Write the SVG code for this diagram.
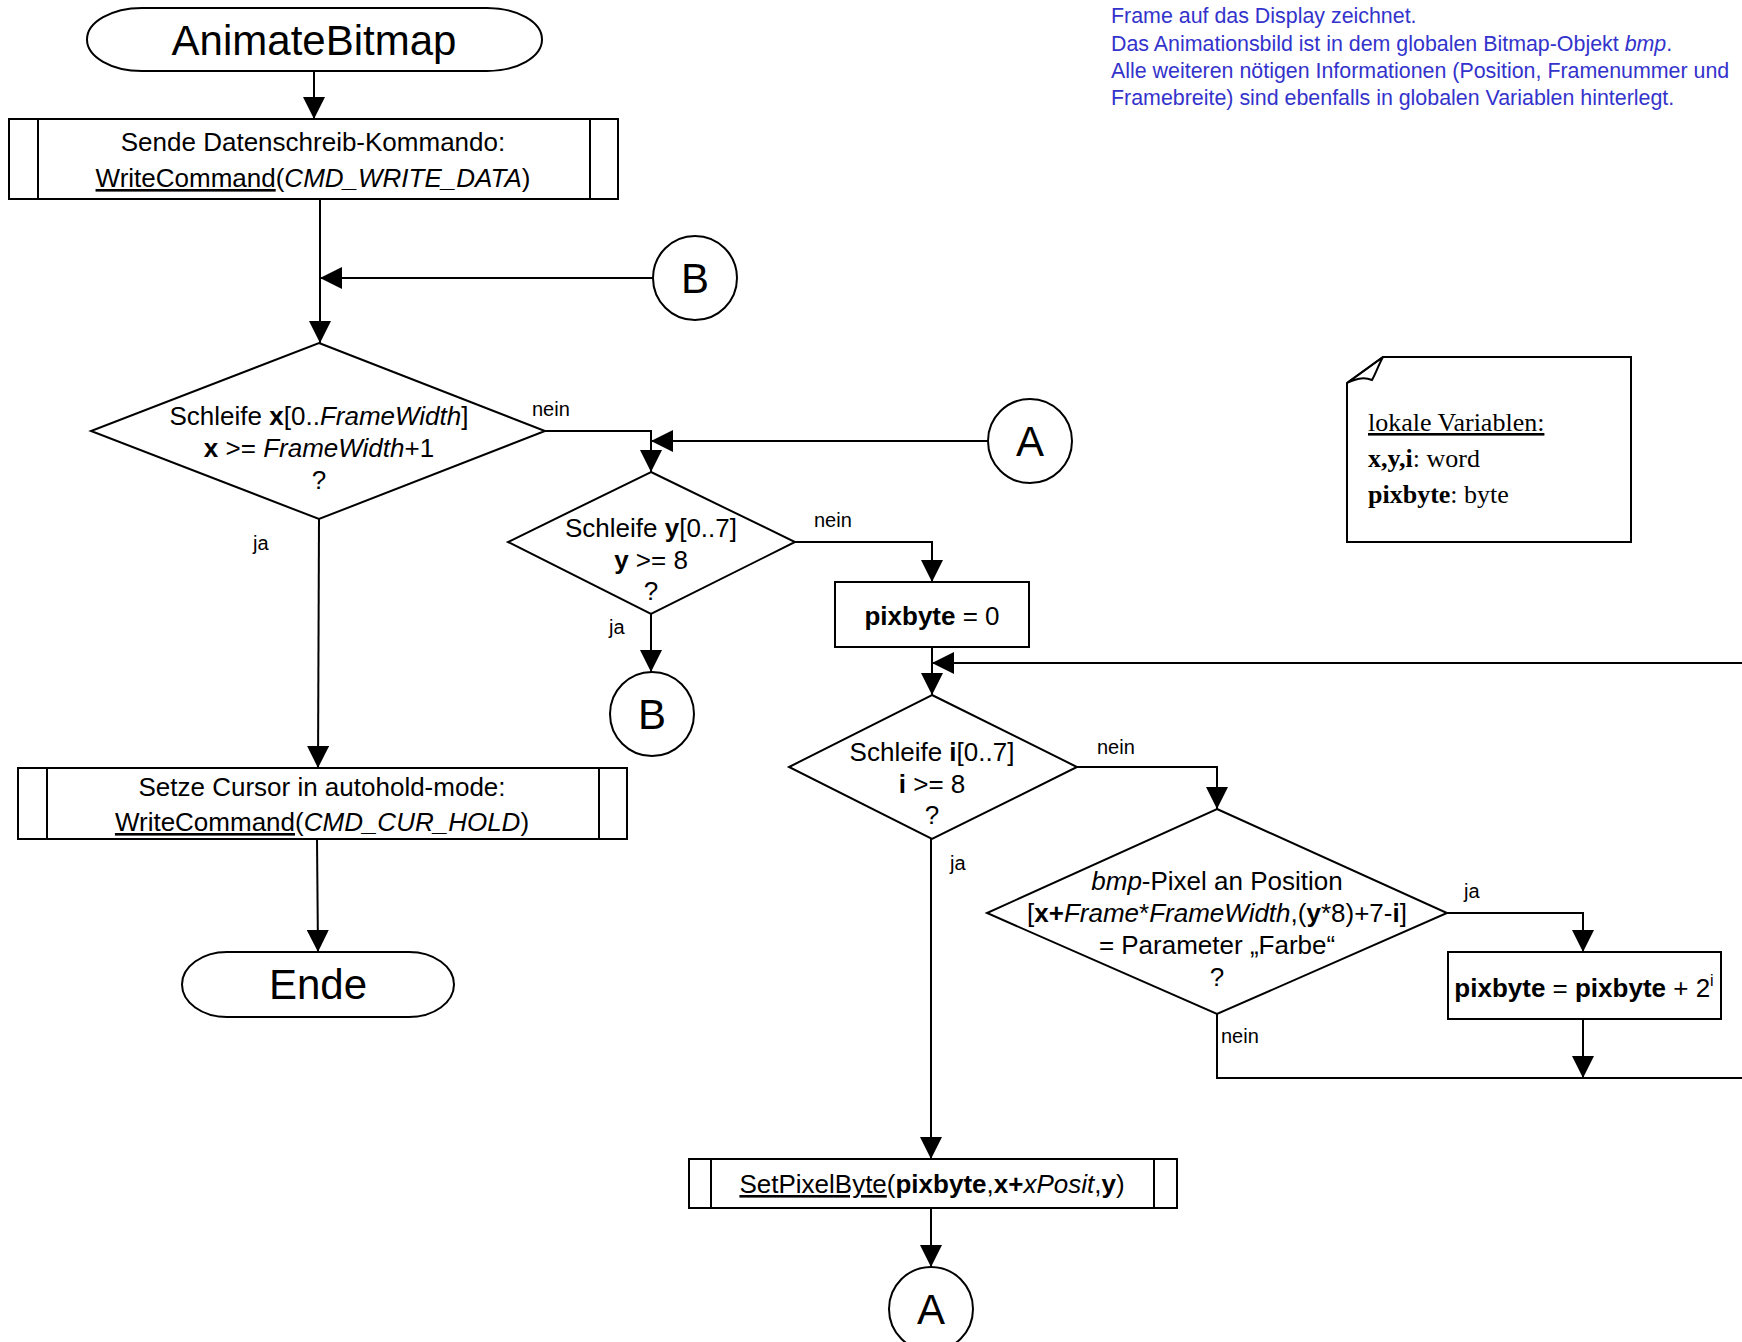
<svg xmlns="http://www.w3.org/2000/svg" width="1742" height="1342" viewBox="0 0 1742 1342">
  <style>
    .shape { fill: #ffffff; stroke: #000000; stroke-width: 2; }
    .line { fill: none; stroke: #000000; stroke-width: 2; }
    .t { font-family: "Liberation Sans", Arial, sans-serif; font-size: 26px; fill: #000000; text-anchor: middle; }
    .big { font-size: 42px; }
    .lbl { font-family: "Liberation Sans", Arial, sans-serif; font-size: 20px; fill: #000000; }
    .note { font-family: "Liberation Serif", "Times New Roman", serif; font-size: 26px; fill: #000000; }
    .info { font-family: "Liberation Sans", Arial, sans-serif; font-size: 21.4px; fill: #3333CC; }
    .b { font-weight: bold; }
    .i { font-style: italic; }
    .u { text-decoration: underline; }
  </style>
  <defs>
    <marker id="arrow" markerUnits="userSpaceOnUse" markerWidth="22" markerHeight="22" refX="22" refY="11" orient="auto">
      <path d="M0,0 L22,11 L0,22 z" fill="#000000"/>
    </marker>
  </defs>

  <rect width="1742" height="1342" fill="#ffffff"/>

  <!-- description -->
  <g id="info">
    <text class="info" x="1111" y="23">Frame auf das Display zeichnet.</text>
    <text class="info" x="1111" y="51">Das Animationsbild ist in dem globalen Bitmap-Objekt <tspan class="i">bmp</tspan>.</text>
    <text class="info" x="1111" y="78">Alle weiteren nötigen Informationen (Position, Framenummer und</text>
    <text class="info" x="1111" y="105">Framebreite) sind ebenfalls in globalen Variablen hinterlegt.</text>
  </g>

  <!-- connectors -->
  <g id="connectors">
    <line class="line" x1="314" y1="71" x2="314" y2="119" marker-end="url(#arrow)"/>
    <line class="line" x1="320" y1="199" x2="320" y2="343" marker-end="url(#arrow)"/>
    <line class="line" x1="653" y1="278" x2="320" y2="278" marker-end="url(#arrow)"/>
    <polyline class="line" points="545,431 651,431 651,472" marker-end="url(#arrow)"/>
    <line class="line" x1="988" y1="441" x2="651" y2="441" marker-end="url(#arrow)"/>
    <line class="line" x1="319" y1="519" x2="318" y2="768" marker-end="url(#arrow)"/>
    <line class="line" x1="317" y1="839" x2="318" y2="952" marker-end="url(#arrow)"/>
    <line class="line" x1="651" y1="614" x2="651" y2="672" marker-end="url(#arrow)"/>
    <polyline class="line" points="795,542 932,542 932,582" marker-end="url(#arrow)"/>
    <line class="line" x1="932" y1="647" x2="932" y2="695" marker-end="url(#arrow)"/>
    <line class="line" x1="1742" y1="663" x2="932" y2="663" marker-end="url(#arrow)"/>
    <polyline class="line" points="1077,767 1217,767 1217,809" marker-end="url(#arrow)"/>
    <line class="line" x1="931" y1="839" x2="931" y2="1159" marker-end="url(#arrow)"/>
    <polyline class="line" points="1447,913 1583,913 1583,952" marker-end="url(#arrow)"/>
    <line class="line" x1="1583" y1="1019" x2="1583" y2="1078" marker-end="url(#arrow)"/>
    <polyline class="line" points="1217,1014 1217,1078 1742,1078"/>
    <line class="line" x1="931" y1="1208" x2="931" y2="1267" marker-end="url(#arrow)"/>

    <text class="lbl" x="532" y="416">nein</text>
    <text class="lbl" x="253" y="550">ja</text>
    <text class="lbl" x="814" y="527">nein</text>
    <text class="lbl" x="609" y="634">ja</text>
    <text class="lbl" x="1097" y="754">nein</text>
    <text class="lbl" x="950" y="870">ja</text>
    <text class="lbl" x="1464" y="898">ja</text>
    <text class="lbl" x="1221" y="1043">nein</text>
  </g>

  <g id="start">
    <rect class="shape" x="87" y="8" width="455" height="63" rx="55" ry="31.5"/>
    <text class="t big" x="314" y="55">AnimateBitmap</text>
  </g>

  <g id="send-command">
    <rect class="shape" x="9" y="119" width="609" height="80"/>
    <line class="line" x1="38" y1="119" x2="38" y2="199"/>
    <line class="line" x1="590" y1="119" x2="590" y2="199"/>
    <text class="t" x="313" y="151">Sende Datenschreib-Kommando:</text>
    <text class="t" x="313" y="187"><tspan class="u">WriteCommand</tspan>(<tspan class="i">CMD_WRITE_DATA</tspan>)</text>
  </g>

  <g id="connector-b-in">
    <circle class="shape" cx="695" cy="278" r="42"/>
    <text class="t big" x="695" y="293">B</text>
  </g>

  <g id="loop-x">
    <polygon class="shape" points="319,343 545,431 319,519 91,431"/>
    <text class="t" x="319" y="425">Schleife <tspan class="b">x</tspan>[0..<tspan class="i">FrameWidth</tspan>]</text>
    <text class="t" x="319" y="457"><tspan class="b">x</tspan> &gt;= <tspan class="i">FrameWidth</tspan>+1</text>
    <text class="t" x="319" y="489">?</text>
  </g>

  <g id="connector-a-in">
    <circle class="shape" cx="1030" cy="441" r="42"/>
    <text class="t big" x="1030" y="456">A</text>
  </g>

  <g id="loop-y">
    <polygon class="shape" points="651,472 795,542 651,614 508,542"/>
    <text class="t" x="651" y="537">Schleife <tspan class="b">y</tspan>[0..7]</text>
    <text class="t" x="651" y="569"><tspan class="b">y</tspan> &gt;= 8</text>
    <text class="t" x="651" y="600">?</text>
  </g>

  <g id="connector-b-out">
    <circle class="shape" cx="652" cy="714" r="42"/>
    <text class="t big" x="652" y="729">B</text>
  </g>

  <g id="cursor-hold">
    <rect class="shape" x="18" y="768" width="609" height="71"/>
    <line class="line" x1="47" y1="768" x2="47" y2="839"/>
    <line class="line" x1="599" y1="768" x2="599" y2="839"/>
    <text class="t" x="322" y="796">Setze Cursor in autohold-mode:</text>
    <text class="t" x="322" y="831"><tspan class="u">WriteCommand</tspan>(<tspan class="i">CMD_CUR_HOLD</tspan>)</text>
  </g>

  <g id="end">
    <rect class="shape" x="182" y="952" width="272" height="65" rx="45" ry="32.5"/>
    <text class="t big" x="318" y="999">Ende</text>
  </g>

  <g id="pixbyte-reset">
    <rect class="shape" x="835" y="582" width="194" height="65"/>
    <text class="t" x="932" y="625"><tspan class="b">pixbyte</tspan> = 0</text>
  </g>

  <g id="loop-i">
    <polygon class="shape" points="932,695 1077,767 932,839 789,767"/>
    <text class="t" x="932" y="761">Schleife <tspan class="b">i</tspan>[0..7]</text>
    <text class="t" x="932" y="793"><tspan class="b">i</tspan> &gt;= 8</text>
    <text class="t" x="932" y="824">?</text>
  </g>

  <g id="pixel-test">
    <polygon class="shape" points="1217,809 1447,913 1217,1014 987,913"/>
    <text class="t" x="1217" y="890"><tspan class="i">bmp</tspan>-Pixel an Position</text>
    <text class="t" x="1217" y="922">[<tspan class="b">x+</tspan><tspan class="i">Frame</tspan>*<tspan class="i">FrameWidth</tspan>,(<tspan class="b">y</tspan>*8)+7-<tspan class="b">i</tspan>]</text>
    <text class="t" x="1217" y="954">= Parameter „Farbe“</text>
    <text class="t" x="1217" y="986">?</text>
  </g>

  <g id="pixbyte-add">
    <rect class="shape" x="1448" y="952" width="273" height="67"/>
    <text class="t" x="1584" y="997"><tspan class="b">pixbyte</tspan> = <tspan class="b">pixbyte</tspan> + 2<tspan font-size="16" dy="-11">i</tspan></text>
  </g>

  <g id="set-pixel-byte">
    <rect class="shape" x="689" y="1159" width="488" height="49"/>
    <line class="line" x1="711" y1="1159" x2="711" y2="1208"/>
    <line class="line" x1="1154" y1="1159" x2="1154" y2="1208"/>
    <text class="t" x="932" y="1193"><tspan class="u">SetPixelByte</tspan>(<tspan class="b">pixbyte</tspan>,<tspan class="b">x+</tspan><tspan class="i">xPosit</tspan>,<tspan class="b">y</tspan>)</text>
  </g>

  <g id="connector-a-out">
    <circle class="shape" cx="931" cy="1309" r="42"/>
    <text class="t big" x="931" y="1324">A</text>
  </g>

  <g id="local-vars">
    <path class="shape" d="M1383,357 L1631,357 L1631,542 L1347,542 L1347,383 Z"/>
    <path class="line" d="M1347,383 L1383,357 C1378,366 1376,373 1372,380 C1362,376 1354,380 1347,383"/>
    <text class="note" x="1368" y="431"><tspan class="u">lokale Variablen:</tspan></text>
    <text class="note" x="1368" y="467"><tspan class="b">x,y,i</tspan>: word</text>
    <text class="note" x="1368" y="503"><tspan class="b">pixbyte</tspan>: byte</text>
  </g>
</svg>
